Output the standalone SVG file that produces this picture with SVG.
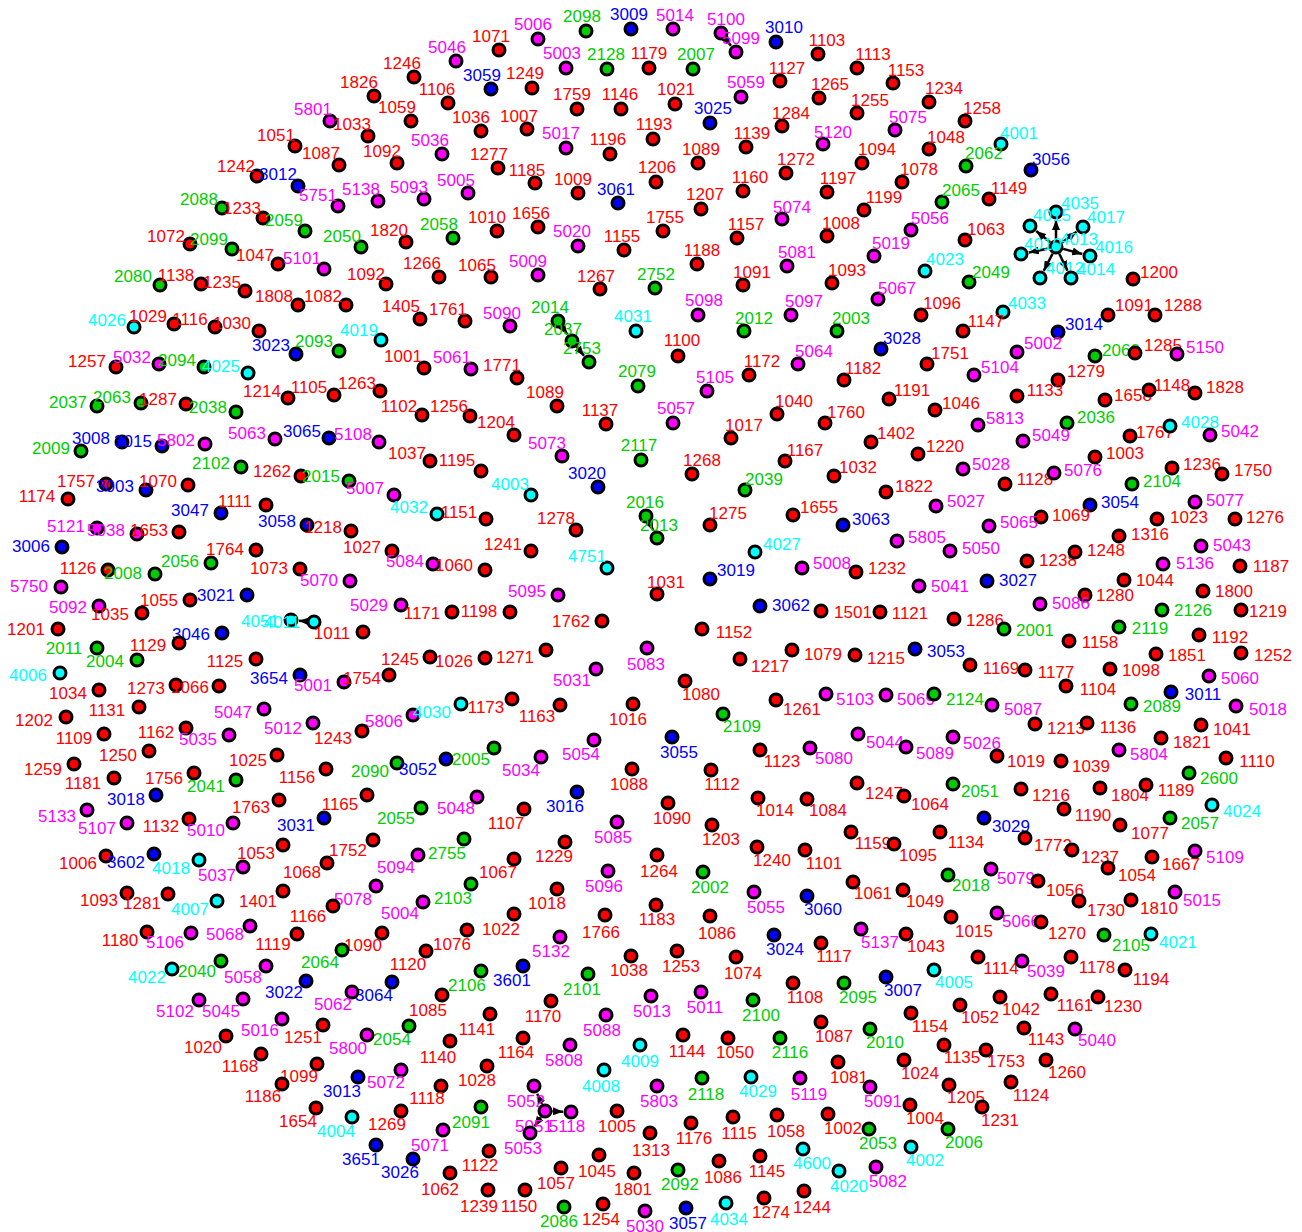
<svg xmlns="http://www.w3.org/2000/svg" width="1302" height="1232" viewBox="0 0 1302 1232">
<style>
circle{stroke:#000;stroke-width:3}
text{font-family:"Liberation Sans",Arial,sans-serif;font-size:17px;text-anchor:middle}
.r circle,.r text{fill:#ff0000}
.g circle,.g text{fill:#00cd00}
.b circle,.b text{fill:#0000ff}
.m circle,.m text{fill:#ff00ff}
.c circle,.c text{fill:#00ffff}
.e line{stroke:#000;stroke-width:2.5;marker-end:url(#ah)}
</style>
<defs><marker id="ah" markerUnits="userSpaceOnUse" markerWidth="10" markerHeight="8" refX="10" refY="4" orient="auto"><path d="M0,0 L10,4 L0,8 z" fill="#000"/></marker></defs>
<rect width="1302" height="1232" fill="#fff"/>
<g id="edges" class="e">
<line x1="725.6" y1="38.9" x2="731" y2="45.7"/>
<line x1="562.3" y1="327.1" x2="567.4" y2="334.4"/>
<line x1="576.7" y1="346.8" x2="584" y2="355.8"/>
<line x1="649.4" y1="522.7" x2="653.4" y2="530.8"/>
<line x1="1056" y1="239.5" x2="1056" y2="220"/>
<line x1="1050.2" y1="242.3" x2="1036.2" y2="231"/>
<line x1="1062" y1="242.5" x2="1076.6" y2="231.8"/>
<line x1="1048.6" y1="248.5" x2="1028.8" y2="252.4"/>
<line x1="1063.2" y1="248.9" x2="1082.3" y2="254"/>
<line x1="1052.6" y1="253.7" x2="1043.7" y2="270.9"/>
<line x1="1059.3" y1="253.8" x2="1067.5" y2="270.8"/>
<line x1="306.5" y1="621.3" x2="299" y2="620.7"/>
<line x1="542" y1="1104.1" x2="537.2" y2="1093.7"/>
<line x1="552.5" y1="1111.3" x2="563" y2="1111.7"/>
<line x1="540.8" y1="1117.2" x2="534.5" y2="1126.4"/>
</g>
<g id="nodes">
<g id="n1246" class="r"><circle cx="414" cy="77" r="6"/><text x="402" y="69">1246</text></g>
<g id="n1826" class="r"><circle cx="374" cy="96" r="6"/><text x="359" y="88">1826</text></g>
<g id="n5801" class="m"><circle cx="330" cy="121" r="6"/><text x="313" y="115">5801</text></g>
<g id="n1059" class="r"><circle cx="411" cy="121" r="6"/><text x="397" y="113">1059</text></g>
<g id="n1033" class="r"><circle cx="368" cy="136" r="6"/><text x="352" y="130">1033</text></g>
<g id="n1051" class="r"><circle cx="295" cy="146" r="6"/><text x="276" y="141">1051</text></g>
<g id="n1087" class="r"><circle cx="339" cy="165" r="6"/><text x="321" y="159">1087</text></g>
<g id="n1092" class="r"><circle cx="397" cy="163" r="6"/><text x="382" y="157">1092</text></g>
<g id="n1242" class="r"><circle cx="257" cy="176" r="6"/><text x="236" y="172">1242</text></g>
<g id="n3012" class="b"><circle cx="298" cy="186" r="6"/><text x="278" y="180">3012</text></g>
<g id="n5751" class="m"><circle cx="338" cy="206" r="6"/><text x="318" y="201">5751</text></g>
<g id="n5138" class="m"><circle cx="378" cy="201" r="6"/><text x="361" y="195">5138</text></g>
<g id="n5093" class="m"><circle cx="424" cy="199" r="6"/><text x="409" y="193">5093</text></g>
<g id="n2088" class="g"><circle cx="222" cy="208" r="6"/><text x="199" y="205">2088</text></g>
<g id="n1233" class="r"><circle cx="263" cy="218" r="6"/><text x="242" y="214">1233</text></g>
<g id="n2059" class="g"><circle cx="305" cy="231" r="6"/><text x="284" y="226">2059</text></g>
<g id="n2050" class="g"><circle cx="361" cy="247" r="6"/><text x="342" y="242">2050</text></g>
<g id="n1820" class="r"><circle cx="406" cy="242" r="6"/><text x="389" y="236">1820</text></g>
<g id="n1072" class="r"><circle cx="190" cy="244" r="6"/><text x="166" y="242">1072</text></g>
<g id="n2099" class="g"><circle cx="232" cy="249" r="6"/><text x="209" y="245">2099</text></g>
<g id="n1047" class="r"><circle cx="278" cy="264" r="6"/><text x="255" y="261">1047</text></g>
<g id="n5101" class="m"><circle cx="324" cy="269" r="6"/><text x="302" y="264">5101</text></g>
<g id="n1092b" class="r"><circle cx="386" cy="284" r="6"/><text x="366" y="280">1092</text></g>
<g id="n1266" class="r"><circle cx="439" cy="277" r="6"/><text x="422" y="269">1266</text></g>
<g id="n2080" class="g"><circle cx="160" cy="285" r="6"/><text x="133" y="282">2080</text></g>
<g id="n1138" class="r"><circle cx="201" cy="284" r="6"/><text x="176" y="281">1138</text></g>
<g id="n1235" class="r"><circle cx="245" cy="291" r="6"/><text x="222" y="288">1235</text></g>
<g id="n1808" class="r"><circle cx="298" cy="305" r="6"/><text x="274" y="302">1808</text></g>
<g id="n1082" class="r"><circle cx="346" cy="305" r="6"/><text x="323" y="302">1082</text></g>
<g id="n1405" class="r"><circle cx="420" cy="319" r="6"/><text x="401" y="312">1405</text></g>
<g id="n5046" class="m"><circle cx="456" cy="61" r="6"/><text x="447" y="53">5046</text></g>
<g id="n1071" class="r"><circle cx="499" cy="50" r="6"/><text x="491" y="42">1071</text></g>
<g id="n5006" class="m"><circle cx="538" cy="39" r="6"/><text x="533" y="30">5006</text></g>
<g id="n2098" class="g"><circle cx="586" cy="31" r="6"/><text x="582" y="22">2098</text></g>
<g id="n3009" class="b"><circle cx="631" cy="29" r="6"/><text x="629" y="20">3009</text></g>
<g id="n5014" class="m"><circle cx="673" cy="29" r="6"/><text x="675" y="21">5014</text></g>
<g id="n5100" class="m"><circle cx="721" cy="33" r="6"/><text x="726" y="25">5100</text></g>
<g id="n5099" class="m"><circle cx="736" cy="52" r="6"/><text x="741" y="44">5099</text></g>
<g id="n3010" class="b"><circle cx="776" cy="42" r="6"/><text x="784" y="33">3010</text></g>
<g id="n1103" class="r"><circle cx="818" cy="54" r="6"/><text x="827" y="46">1103</text></g>
<g id="n1113" class="r"><circle cx="857" cy="68" r="6"/><text x="873" y="60">1113</text></g>
<g id="n5003" class="m"><circle cx="566" cy="68" r="6"/><text x="562" y="59">5003</text></g>
<g id="n2128" class="g"><circle cx="607" cy="69" r="6"/><text x="606" y="60">2128</text></g>
<g id="n1179" class="r"><circle cx="649" cy="68" r="6"/><text x="649" y="59">1179</text></g>
<g id="n2007" class="g"><circle cx="693" cy="69" r="6"/><text x="696" y="60">2007</text></g>
<g id="n3059" class="b"><circle cx="491" cy="89" r="6"/><text x="482" y="81">3059</text></g>
<g id="n1249" class="r"><circle cx="532" cy="88" r="6"/><text x="525" y="79">1249</text></g>
<g id="n1106" class="r"><circle cx="448" cy="103" r="6"/><text x="437" y="95">1106</text></g>
<g id="n1759" class="r"><circle cx="577" cy="109" r="6"/><text x="572" y="100">1759</text></g>
<g id="n1146" class="r"><circle cx="621" cy="109" r="6"/><text x="620" y="100">1146</text></g>
<g id="n1021" class="r"><circle cx="675" cy="104" r="6"/><text x="676" y="95">1021</text></g>
<g id="n5059" class="m"><circle cx="741" cy="97" r="6"/><text x="746" y="88">5059</text></g>
<g id="n1127" class="r"><circle cx="780" cy="81" r="6"/><text x="787" y="74">1127</text></g>
<g id="n1265" class="r"><circle cx="819" cy="98" r="6"/><text x="830" y="90">1265</text></g>
<g id="n1255" class="r"><circle cx="857" cy="113" r="6"/><text x="870" y="106">1255</text></g>
<g id="n1036" class="r"><circle cx="481" cy="131" r="6"/><text x="471" y="123">1036</text></g>
<g id="n1007" class="r"><circle cx="527" cy="129" r="6"/><text x="519" y="122">1007</text></g>
<g id="n3025" class="b"><circle cx="710" cy="123" r="6"/><text x="713" y="114">3025</text></g>
<g id="n1284" class="r"><circle cx="782" cy="126" r="6"/><text x="791" y="119">1284</text></g>
<g id="n5036" class="m"><circle cx="442" cy="154" r="6"/><text x="430" y="146">5036</text></g>
<g id="n5017" class="m"><circle cx="566" cy="148" r="6"/><text x="561" y="139">5017</text></g>
<g id="n1196" class="r"><circle cx="610" cy="154" r="6"/><text x="608" y="145">1196</text></g>
<g id="n1193" class="r"><circle cx="653" cy="139" r="6"/><text x="654" y="130">1193</text></g>
<g id="n1139" class="r"><circle cx="746" cy="147" r="6"/><text x="752" y="139">1139</text></g>
<g id="n5120" class="m"><circle cx="823" cy="144" r="6"/><text x="833" y="138">5120</text></g>
<g id="n1089" class="r"><circle cx="698" cy="163" r="6"/><text x="701" y="155">1089</text></g>
<g id="n1277" class="r"><circle cx="498" cy="168" r="6"/><text x="489" y="160">1277</text></g>
<g id="n1185" class="r"><circle cx="535" cy="183" r="6"/><text x="527" y="176">1185</text></g>
<g id="n1206" class="r"><circle cx="656" cy="182" r="6"/><text x="657" y="173">1206</text></g>
<g id="n1272" class="r"><circle cx="786" cy="173" r="6"/><text x="796" y="165">1272</text></g>
<g id="n1160" class="r"><circle cx="743" cy="191" r="6"/><text x="750" y="183">1160</text></g>
<g id="n1197" class="r"><circle cx="827" cy="192" r="6"/><text x="838" y="184">1197</text></g>
<g id="n1094" class="r"><circle cx="862" cy="163" r="6"/><text x="877" y="155">1094</text></g>
<g id="n5005" class="m"><circle cx="468" cy="193" r="6"/><text x="456" y="186">5005</text></g>
<g id="n1009" class="r"><circle cx="578" cy="193" r="6"/><text x="573" y="185">1009</text></g>
<g id="n3061" class="b"><circle cx="618" cy="203" r="6"/><text x="616" y="195">3061</text></g>
<g id="n1207" class="r"><circle cx="701" cy="209" r="6"/><text x="705" y="200">1207</text></g>
<g id="n5074" class="m"><circle cx="782" cy="219" r="6"/><text x="792" y="213">5074</text></g>
<g id="n1199" class="r"><circle cx="864" cy="210" r="6"/><text x="884" y="203">1199</text></g>
<g id="n2058" class="g"><circle cx="453" cy="238" r="6"/><text x="439" y="230">2058</text></g>
<g id="n1010" class="r"><circle cx="497" cy="231" r="6"/><text x="487" y="223">1010</text></g>
<g id="n1656" class="r"><circle cx="538" cy="227" r="6"/><text x="531" y="219">1656</text></g>
<g id="n5020" class="m"><circle cx="578" cy="246" r="6"/><text x="572" y="237">5020</text></g>
<g id="n1155" class="r"><circle cx="624" cy="250" r="6"/><text x="622" y="242">1155</text></g>
<g id="n1755" class="r"><circle cx="663" cy="231" r="6"/><text x="665" y="223">1755</text></g>
<g id="n1157" class="r"><circle cx="737" cy="238" r="6"/><text x="746" y="230">1157</text></g>
<g id="n1008" class="r"><circle cx="827" cy="236" r="6"/><text x="841" y="229">1008</text></g>
<g id="n1065" class="r"><circle cx="491" cy="277" r="6"/><text x="477" y="271">1065</text></g>
<g id="n5009" class="m"><circle cx="538" cy="275" r="6"/><text x="528" y="267">5009</text></g>
<g id="n1188" class="r"><circle cx="697" cy="264" r="6"/><text x="702" y="256">1188</text></g>
<g id="n5081" class="m"><circle cx="787" cy="266" r="6"/><text x="797" y="258">5081</text></g>
<g id="n1267" class="r"><circle cx="600" cy="289" r="6"/><text x="596" y="282">1267</text></g>
<g id="n2752" class="g"><circle cx="655" cy="288" r="6"/><text x="656" y="280">2752</text></g>
<g id="n1091" class="r"><circle cx="743" cy="285" r="6"/><text x="752" y="278">1091</text></g>
<g id="n1093" class="r"><circle cx="832" cy="283" r="6"/><text x="847" y="276">1093</text></g>
<g id="n5098" class="m"><circle cx="698" cy="315" r="6"/><text x="704" y="306">5098</text></g>
<g id="n5097" class="m"><circle cx="791" cy="315" r="6"/><text x="804" y="307">5097</text></g>
<g id="n1761" class="r"><circle cx="465" cy="321" r="6"/><text x="448" y="315">1761</text></g>
<g id="n5090" class="m"><circle cx="510" cy="326" r="6"/><text x="502" y="319">5090</text></g>
<g id="n2014" class="g"><circle cx="558" cy="321" r="6"/><text x="550" y="313">2014</text></g>
<g id="n2037" class="g"><circle cx="572" cy="341" r="6"/><text x="563" y="335">2037</text></g>
<g id="n2753" class="g"><circle cx="589" cy="362" r="6"/><text x="582" y="354">2753</text></g>
<g id="n1153" class="r"><circle cx="893" cy="83" r="6"/><text x="906" y="76">1153</text></g>
<g id="n1234" class="r"><circle cx="929" cy="102" r="6"/><text x="944" y="94">1234</text></g>
<g id="n1258" class="r"><circle cx="965" cy="121" r="6"/><text x="982" y="114">1258</text></g>
<g id="n5075" class="m"><circle cx="895" cy="130" r="6"/><text x="908" y="123">5075</text></g>
<g id="n1048" class="r"><circle cx="929" cy="149" r="6"/><text x="946" y="143">1048</text></g>
<g id="n4001" class="c"><circle cx="1001" cy="144" r="6"/><text x="1019" y="139">4001</text></g>
<g id="n2062" class="g"><circle cx="966" cy="166" r="6"/><text x="984" y="159">2062</text></g>
<g id="n3056" class="b"><circle cx="1031" cy="170" r="6"/><text x="1051" y="165">3056</text></g>
<g id="n1078" class="r"><circle cx="902" cy="182" r="6"/><text x="919" y="175">1078</text></g>
<g id="n2065" class="g"><circle cx="942" cy="202" r="6"/><text x="961" y="196">2065</text></g>
<g id="n1149" class="r"><circle cx="989" cy="199" r="6"/><text x="1009" y="194">1149</text></g>
<g id="n5056" class="m"><circle cx="911" cy="230" r="6"/><text x="930" y="224">5056</text></g>
<g id="n1063" class="r"><circle cx="965" cy="240" r="6"/><text x="986" y="235">1063</text></g>
<g id="n5019" class="m"><circle cx="874" cy="256" r="6"/><text x="891" y="249">5019</text></g>
<g id="n4023" class="c"><circle cx="925" cy="271" r="6"/><text x="945" y="265">4023</text></g>
<g id="n2049" class="g"><circle cx="969" cy="282" r="6"/><text x="991" y="278">2049</text></g>
<g id="n5067" class="m"><circle cx="878" cy="299" r="6"/><text x="897" y="294">5067</text></g>
<g id="n1096" class="r"><circle cx="921" cy="315" r="6"/><text x="942" y="309">1096</text></g>
<g id="n4033" class="c"><circle cx="1003" cy="312" r="6"/><text x="1027" y="309">4033</text></g>
<g id="n1200" class="r"><circle cx="1133" cy="279" r="6"/><text x="1159" y="278">1200</text></g>
<g id="n1091b" class="r"><circle cx="1108" cy="315" r="6"/><text x="1134" y="311">1091</text></g>
<g id="n1288" class="r"><circle cx="1155" cy="315" r="6"/><text x="1183" y="311">1288</text></g>
<g id="n4035" class="c"><circle cx="1056" cy="212" r="6"/><text x="1080" y="209">4035</text></g>
<g id="n4015" class="c"><circle cx="1030" cy="226" r="6"/><text x="1052" y="221">4015</text></g>
<g id="n4017" class="c"><circle cx="1083" cy="227" r="6"/><text x="1106" y="223">4017</text></g>
<g id="n4013" class="c"><circle cx="1056" cy="247" r="6"/><text x="1079" y="245">4013</text></g>
<g id="n4010" class="c"><circle cx="1021" cy="254" r="6"/><text x="1043" y="250">4010</text></g>
<g id="n4016" class="c"><circle cx="1090" cy="256" r="6"/><text x="1114" y="253">4016</text></g>
<g id="n4012" class="c"><circle cx="1040" cy="278" r="6"/><text x="1065" y="274">4012</text></g>
<g id="n4014" class="c"><circle cx="1071" cy="278" r="6"/><text x="1096" y="275">4014</text></g>
<g id="n4026" class="c"><circle cx="134" cy="327" r="6"/><text x="107" y="326">4026</text></g>
<g id="n1029" class="r"><circle cx="174" cy="324" r="6"/><text x="148" y="322">1029</text></g>
<g id="n1116" class="r"><circle cx="215" cy="327" r="6"/><text x="190" y="325">1116</text></g>
<g id="n1030" class="r"><circle cx="259" cy="331" r="6"/><text x="232" y="329">1030</text></g>
<g id="n3023" class="b"><circle cx="296" cy="354" r="6"/><text x="271" y="351">3023</text></g>
<g id="n2093" class="g"><circle cx="339" cy="351" r="6"/><text x="314" y="347">2093</text></g>
<g id="n4019" class="c"><circle cx="381" cy="340" r="6"/><text x="359" y="336">4019</text></g>
<g id="n1001" class="r"><circle cx="424" cy="368" r="6"/><text x="403" y="362">1001</text></g>
<g id="n1257" class="r"><circle cx="116" cy="367" r="6"/><text x="87" y="367">1257</text></g>
<g id="n5032" class="m"><circle cx="159" cy="364" r="6"/><text x="132" y="363">5032</text></g>
<g id="n2094" class="g"><circle cx="204" cy="367" r="6"/><text x="177" y="366">2094</text></g>
<g id="n4025" class="c"><circle cx="248" cy="373" r="6"/><text x="221" y="372">4025</text></g>
<g id="n1214" class="r"><circle cx="288" cy="398" r="6"/><text x="262" y="397">1214</text></g>
<g id="n1105" class="r"><circle cx="334" cy="395" r="6"/><text x="309" y="393">1105</text></g>
<g id="n1263" class="r"><circle cx="380" cy="391" r="6"/><text x="357" y="389">1263</text></g>
<g id="n1102" class="r"><circle cx="422" cy="415" r="6"/><text x="399" y="412">1102</text></g>
<g id="n2037b" class="g"><circle cx="97" cy="406" r="6"/><text x="68" y="408">2037</text></g>
<g id="n2063" class="g"><circle cx="141" cy="403" r="6"/><text x="112" y="403">2063</text></g>
<g id="n1287" class="r"><circle cx="186" cy="404" r="6"/><text x="158" y="405">1287</text></g>
<g id="n2038" class="g"><circle cx="236" cy="412" r="6"/><text x="208" y="413">2038</text></g>
<g id="n2009" class="g"><circle cx="81" cy="451" r="6"/><text x="51" y="454">2009</text></g>
<g id="n3008" class="b"><circle cx="122" cy="442" r="6"/><text x="91" y="444">3008</text></g>
<g id="n3015" class="b"><circle cx="162" cy="446" r="6"/><text x="133" y="447">3015</text></g>
<g id="n5802" class="m"><circle cx="205" cy="444" r="6"/><text x="176" y="446">5802</text></g>
<g id="n5063" class="m"><circle cx="275" cy="439" r="6"/><text x="247" y="439">5063</text></g>
<g id="n3065" class="b"><circle cx="329" cy="438" r="6"/><text x="302" y="437">3065</text></g>
<g id="n5108" class="m"><circle cx="379" cy="442" r="6"/><text x="353" y="440">5108</text></g>
<g id="n1037" class="r"><circle cx="430" cy="461" r="6"/><text x="407" y="459">1037</text></g>
<g id="n2102" class="g"><circle cx="241" cy="467" r="6"/><text x="211" y="469">2102</text></g>
<g id="n1262" class="r"><circle cx="301" cy="476" r="6"/><text x="272" y="477">1262</text></g>
<g id="n2015" class="g"><circle cx="349" cy="481" r="6"/><text x="321" y="482">2015</text></g>
<g id="n5007" class="m"><circle cx="394" cy="495" r="6"/><text x="365" y="494">5007</text></g>
<g id="n4032" class="c"><circle cx="437" cy="514" r="6"/><text x="409" y="513">4032</text></g>
<g id="n1757" class="r"><circle cx="106" cy="484" r="6"/><text x="76" y="487">1757</text></g>
<g id="n3003" class="b"><circle cx="146" cy="490" r="6"/><text x="115" y="492">3003</text></g>
<g id="n1070" class="r"><circle cx="188" cy="485" r="6"/><text x="158" y="487">1070</text></g>
<g id="n1174" class="r"><circle cx="68" cy="499" r="6"/><text x="37" y="502">1174</text></g>
<g id="n3047" class="b"><circle cx="221" cy="513" r="6"/><text x="190" y="516">3047</text></g>
<g id="n1111" class="r"><circle cx="266" cy="505" r="6"/><text x="235" y="507">1111</text></g>
<g id="n3058" class="b"><circle cx="307" cy="525" r="6"/><text x="277" y="527">3058</text></g>
<g id="n1218" class="r"><circle cx="351" cy="531" r="6"/><text x="323" y="533">1218</text></g>
<g id="n5121" class="m"><circle cx="97" cy="528" r="6"/><text x="66" y="532">5121</text></g>
<g id="n5038" class="m"><circle cx="137" cy="534" r="6"/><text x="106" y="536">5038</text></g>
<g id="n1653" class="r"><circle cx="179" cy="532" r="6"/><text x="149" y="536">1653</text></g>
<g id="n3006" class="b"><circle cx="62" cy="547" r="6"/><text x="31" y="552">3006</text></g>
<g id="n1764" class="r"><circle cx="256" cy="550" r="6"/><text x="225" y="555">1764</text></g>
<g id="n1027" class="r"><circle cx="392" cy="551" r="6"/><text x="362" y="553">1027</text></g>
<g id="n5084" class="m"><circle cx="433" cy="564" r="6"/><text x="405" y="567">5084</text></g>
<g id="n1126" class="r"><circle cx="108" cy="570" r="6"/><text x="78" y="574">1126</text></g>
<g id="n2008" class="g"><circle cx="155" cy="574" r="6"/><text x="123" y="579">2008</text></g>
<g id="n2056" class="g"><circle cx="211" cy="563" r="6"/><text x="180" y="567">2056</text></g>
<g id="n1073" class="r"><circle cx="300" cy="569" r="6"/><text x="269" y="574">1073</text></g>
<g id="n5070" class="m"><circle cx="350" cy="581" r="6"/><text x="319" y="586">5070</text></g>
<g id="n5750" class="m"><circle cx="61" cy="587" r="6"/><text x="29" y="592">5750</text></g>
<g id="n1055" class="r"><circle cx="190" cy="600" r="6"/><text x="159" y="606">1055</text></g>
<g id="n3021" class="b"><circle cx="247" cy="595" r="6"/><text x="216" y="601">3021</text></g>
<g id="n5029" class="m"><circle cx="401" cy="605" r="6"/><text x="369" y="611">5029</text></g>
<g id="n5092" class="m"><circle cx="99" cy="606" r="6"/><text x="68" y="613">5092</text></g>
<g id="n1035" class="r"><circle cx="142" cy="613" r="6"/><text x="110" y="620">1035</text></g>
<g id="n1171" class="r"><circle cx="452" cy="612" r="6"/><text x="422" y="619">1171</text></g>
<g id="n1198" class="r"><circle cx="510" cy="612" r="6"/><text x="479" y="617">1198</text></g>
<g id="n1771" class="r"><circle cx="517" cy="378" r="6"/><text x="502" y="371">1771</text></g>
<g id="n5061" class="m"><circle cx="471" cy="369" r="6"/><text x="452" y="363">5061</text></g>
<g id="n4031" class="c"><circle cx="636" cy="331" r="6"/><text x="633" y="322">4031</text></g>
<g id="n1100" class="r"><circle cx="678" cy="356" r="6"/><text x="682" y="346">1100</text></g>
<g id="n2012" class="g"><circle cx="744" cy="331" r="6"/><text x="754" y="324">2012</text></g>
<g id="n2003" class="g"><circle cx="837" cy="331" r="6"/><text x="851" y="324">2003</text></g>
<g id="n5064" class="m"><circle cx="798" cy="364" r="6"/><text x="814" y="357">5064</text></g>
<g id="n1172" class="r"><circle cx="749" cy="375" r="6"/><text x="762" y="367">1172</text></g>
<g id="n1182" class="r"><circle cx="844" cy="380" r="6"/><text x="863" y="374">1182</text></g>
<g id="n2079" class="g"><circle cx="638" cy="386" r="6"/><text x="637" y="377">2079</text></g>
<g id="n5105" class="m"><circle cx="707" cy="391" r="6"/><text x="715" y="383">5105</text></g>
<g id="n1089b" class="r"><circle cx="557" cy="406" r="6"/><text x="545" y="398">1089</text></g>
<g id="n1137" class="r"><circle cx="606" cy="424" r="6"/><text x="600" y="416">1137</text></g>
<g id="n5057" class="m"><circle cx="673" cy="423" r="6"/><text x="676" y="414">5057</text></g>
<g id="n1040" class="r"><circle cx="777" cy="414" r="6"/><text x="794" y="407">1040</text></g>
<g id="n1760" class="r"><circle cx="825" cy="423" r="6"/><text x="846" y="418">1760</text></g>
<g id="n1256" class="r"><circle cx="470" cy="416" r="6"/><text x="449" y="412">1256</text></g>
<g id="n1204" class="r"><circle cx="514" cy="435" r="6"/><text x="496" y="428">1204</text></g>
<g id="n1017" class="r"><circle cx="731" cy="438" r="6"/><text x="744" y="431">1017</text></g>
<g id="n5073" class="m"><circle cx="562" cy="456" r="6"/><text x="547" y="449">5073</text></g>
<g id="n2117" class="g"><circle cx="641" cy="460" r="6"/><text x="639" y="451">2117</text></g>
<g id="n1195" class="r"><circle cx="481" cy="471" r="6"/><text x="457" y="466">1195</text></g>
<g id="n1268" class="r"><circle cx="692" cy="474" r="6"/><text x="702" y="466">1268</text></g>
<g id="n1167" class="r"><circle cx="785" cy="461" r="6"/><text x="805" y="456">1167</text></g>
<g id="n1032" class="r"><circle cx="834" cy="476" r="6"/><text x="858" y="473">1032</text></g>
<g id="n3020" class="b"><circle cx="598" cy="487" r="6"/><text x="587" y="479">3020</text></g>
<g id="n2039" class="g"><circle cx="745" cy="490" r="6"/><text x="764" y="485">2039</text></g>
<g id="n4003" class="c"><circle cx="531" cy="495" r="6"/><text x="510" y="490">4003</text></g>
<g id="n1151" class="r"><circle cx="486" cy="519" r="6"/><text x="459" y="518">1151</text></g>
<g id="n2016" class="g"><circle cx="646" cy="516" r="6"/><text x="645" y="508">2016</text></g>
<g id="n2013" class="g"><circle cx="657" cy="538" r="6"/><text x="659" y="531">2013</text></g>
<g id="n1275" class="r"><circle cx="710" cy="525" r="6"/><text x="728" y="519">1275</text></g>
<g id="n1655" class="r"><circle cx="793" cy="515" r="6"/><text x="819" y="513">1655</text></g>
<g id="n3063" class="b"><circle cx="843" cy="525" r="6"/><text x="871" y="525">3063</text></g>
<g id="n1278" class="r"><circle cx="576" cy="530" r="6"/><text x="556" y="524">1278</text></g>
<g id="n1241" class="r"><circle cx="531" cy="551" r="6"/><text x="503" y="550">1241</text></g>
<g id="n4027" class="c"><circle cx="755" cy="552" r="6"/><text x="782" y="550">4027</text></g>
<g id="n4751" class="c"><circle cx="607" cy="568" r="6"/><text x="587" y="562">4751</text></g>
<g id="n1060" class="r"><circle cx="485" cy="570" r="6"/><text x="454" y="571">1060</text></g>
<g id="n3019" class="b"><circle cx="710" cy="579" r="6"/><text x="736" y="576">3019</text></g>
<g id="n5008" class="m"><circle cx="802" cy="568" r="6"/><text x="832" y="569">5008</text></g>
<g id="n1232" class="r"><circle cx="856" cy="572" r="6"/><text x="887" y="574">1232</text></g>
<g id="n5095" class="m"><circle cx="558" cy="595" r="6"/><text x="527" y="597">5095</text></g>
<g id="n1031" class="r"><circle cx="657" cy="594" r="6"/><text x="666" y="588">1031</text></g>
<g id="n3062" class="b"><circle cx="760" cy="606" r="6"/><text x="791" y="611">3062</text></g>
<g id="n1501" class="r"><circle cx="821" cy="611" r="6"/><text x="853" y="618">1501</text></g>
<g id="n1762" class="r"><circle cx="602" cy="621" r="6"/><text x="571" y="627">1762</text></g>
<g id="n1147" class="r"><circle cx="963" cy="331" r="6"/><text x="986" y="327">1147</text></g>
<g id="n3028" class="b"><circle cx="881" cy="349" r="6"/><text x="902" y="344">3028</text></g>
<g id="n3014" class="b"><circle cx="1058" cy="332" r="6"/><text x="1084" y="330">3014</text></g>
<g id="n5002" class="m"><circle cx="1017" cy="352" r="6"/><text x="1043" y="349">5002</text></g>
<g id="n2060" class="g"><circle cx="1095" cy="356" r="6"/><text x="1121" y="356">2060</text></g>
<g id="n1285" class="r"><circle cx="1135" cy="353" r="6"/><text x="1163" y="351">1285</text></g>
<g id="n5150" class="m"><circle cx="1177" cy="354" r="6"/><text x="1205" y="353">5150</text></g>
<g id="n1751" class="r"><circle cx="927" cy="364" r="6"/><text x="950" y="359">1751</text></g>
<g id="n5104" class="m"><circle cx="974" cy="375" r="6"/><text x="1000" y="373">5104</text></g>
<g id="n1279" class="r"><circle cx="1058" cy="380" r="6"/><text x="1086" y="377">1279</text></g>
<g id="n1191" class="r"><circle cx="889" cy="399" r="6"/><text x="912" y="396">1191</text></g>
<g id="n1133" class="r"><circle cx="1017" cy="396" r="6"/><text x="1045" y="396">1133</text></g>
<g id="n1658" class="r"><circle cx="1105" cy="400" r="6"/><text x="1133" y="401">1658</text></g>
<g id="n1148" class="r"><circle cx="1149" cy="390" r="6"/><text x="1172" y="391">1148</text></g>
<g id="n1828" class="r"><circle cx="1195" cy="393" r="6"/><text x="1225" y="393">1828</text></g>
<g id="n1046" class="r"><circle cx="935" cy="410" r="6"/><text x="961" y="409">1046</text></g>
<g id="n5813" class="m"><circle cx="978" cy="425" r="6"/><text x="1005" y="424">5813</text></g>
<g id="n2036" class="g"><circle cx="1067" cy="423" r="6"/><text x="1096" y="423">2036</text></g>
<g id="n1767" class="r"><circle cx="1130" cy="436" r="6"/><text x="1155" y="438">1767</text></g>
<g id="n4028" class="c"><circle cx="1170" cy="426" r="6"/><text x="1200" y="428">4028</text></g>
<g id="n5042" class="m"><circle cx="1210" cy="435" r="6"/><text x="1240" y="437">5042</text></g>
<g id="n1402" class="r"><circle cx="871" cy="442" r="6"/><text x="896" y="439">1402</text></g>
<g id="n5049" class="m"><circle cx="1023" cy="441" r="6"/><text x="1051" y="441">5049</text></g>
<g id="n1220" class="r"><circle cx="918" cy="454" r="6"/><text x="945" y="452">1220</text></g>
<g id="n1003" class="r"><circle cx="1095" cy="457" r="6"/><text x="1125" y="459">1003</text></g>
<g id="n5028" class="m"><circle cx="963" cy="469" r="6"/><text x="991" y="470">5028</text></g>
<g id="n1128" class="r"><circle cx="1005" cy="484" r="6"/><text x="1035" y="485">1128</text></g>
<g id="n5076" class="m"><circle cx="1054" cy="473" r="6"/><text x="1083" y="476">5076</text></g>
<g id="n1236" class="r"><circle cx="1172" cy="468" r="6"/><text x="1202" y="470">1236</text></g>
<g id="n1750" class="r"><circle cx="1222" cy="474" r="6"/><text x="1253" y="476">1750</text></g>
<g id="n2104" class="g"><circle cx="1132" cy="484" r="6"/><text x="1162" y="487">2104</text></g>
<g id="n1822" class="r"><circle cx="886" cy="492" r="6"/><text x="914" y="492">1822</text></g>
<g id="n3054" class="b"><circle cx="1090" cy="505" r="6"/><text x="1120" y="508">3054</text></g>
<g id="n5077" class="m"><circle cx="1195" cy="502" r="6"/><text x="1225" y="506">5077</text></g>
<g id="n5027" class="m"><circle cx="936" cy="506" r="6"/><text x="966" y="507">5027</text></g>
<g id="n1069" class="r"><circle cx="1041" cy="517" r="6"/><text x="1071" y="521">1069</text></g>
<g id="n1023" class="r"><circle cx="1157" cy="519" r="6"/><text x="1189" y="523">1023</text></g>
<g id="n1276" class="r"><circle cx="1235" cy="519" r="6"/><text x="1265" y="523">1276</text></g>
<g id="n5065" class="m"><circle cx="989" cy="526" r="6"/><text x="1019" y="528">5065</text></g>
<g id="n1316" class="r"><circle cx="1119" cy="536" r="6"/><text x="1150" y="540">1316</text></g>
<g id="n5805" class="m"><circle cx="897" cy="541" r="6"/><text x="927" y="543">5805</text></g>
<g id="n5050" class="m"><circle cx="950" cy="551" r="6"/><text x="981" y="554">5050</text></g>
<g id="n1238" class="r"><circle cx="1027" cy="561" r="6"/><text x="1058" y="566">1238</text></g>
<g id="n1248" class="r"><circle cx="1075" cy="552" r="6"/><text x="1106" y="556">1248</text></g>
<g id="n5043" class="m"><circle cx="1201" cy="546" r="6"/><text x="1232" y="551">5043</text></g>
<g id="n5136" class="m"><circle cx="1163" cy="564" r="6"/><text x="1195" y="569">5136</text></g>
<g id="n1187" class="r"><circle cx="1240" cy="566" r="6"/><text x="1271" y="572">1187</text></g>
<g id="n1044" class="r"><circle cx="1124" cy="580" r="6"/><text x="1155" y="586">1044</text></g>
<g id="n3027" class="b"><circle cx="987" cy="581" r="6"/><text x="1018" y="586">3027</text></g>
<g id="n5041" class="m"><circle cx="919" cy="586" r="6"/><text x="950" y="592">5041</text></g>
<g id="n1800" class="r"><circle cx="1203" cy="591" r="6"/><text x="1234" y="597">1800</text></g>
<g id="n1280" class="r"><circle cx="1085" cy="595" r="6"/><text x="1115" y="601">1280</text></g>
<g id="n5086" class="m"><circle cx="1040" cy="604" r="6"/><text x="1071" y="609">5086</text></g>
<g id="n2126" class="g"><circle cx="1162" cy="610" r="6"/><text x="1193" y="616">2126</text></g>
<g id="n1219" class="r"><circle cx="1241" cy="610" r="6"/><text x="1268" y="617">1219</text></g>
<g id="n1121" class="r"><circle cx="880" cy="612" r="6"/><text x="910" y="619">1121</text></g>
<g id="n1286" class="r"><circle cx="954" cy="619" r="6"/><text x="985" y="626">1286</text></g>
<g id="n4051" class="c"><circle cx="291" cy="620" r="6"/><text x="260" y="627">4051</text></g>
<g id="n4011" class="c"><circle cx="314" cy="622" r="6"/><text x="282" y="628">4011</text></g>
<g id="n1201" class="r"><circle cx="58" cy="629" r="6"/><text x="26" y="635">1201</text></g>
<g id="n3046" class="b"><circle cx="222" cy="633" r="6"/><text x="191" y="640">3046</text></g>
<g id="n1011" class="r"><circle cx="363" cy="632" r="6"/><text x="332" y="639">1011</text></g>
<g id="n2011" class="g"><circle cx="97" cy="648" r="6"/><text x="64" y="654">2011</text></g>
<g id="n1129" class="r"><circle cx="179" cy="643" r="6"/><text x="148" y="651">1129</text></g>
<g id="n2004" class="g"><circle cx="137" cy="660" r="6"/><text x="105" y="667">2004</text></g>
<g id="n1125" class="r"><circle cx="256" cy="659" r="6"/><text x="225" y="667">1125</text></g>
<g id="n1245" class="r"><circle cx="430" cy="657" r="6"/><text x="400" y="665">1245</text></g>
<g id="n4006" class="c"><circle cx="60" cy="673" r="6"/><text x="28" y="681">4006</text></g>
<g id="n3654" class="b"><circle cx="300" cy="675" r="6"/><text x="269" y="684">3654</text></g>
<g id="n5001" class="m"><circle cx="344" cy="682" r="6"/><text x="313" y="691">5001</text></g>
<g id="n1754" class="r"><circle cx="389" cy="675" r="6"/><text x="362" y="684">1754</text></g>
<g id="n1034" class="r"><circle cx="99" cy="690" r="6"/><text x="68" y="699">1034</text></g>
<g id="n1273" class="r"><circle cx="176" cy="685" r="6"/><text x="146" y="694">1273</text></g>
<g id="n1066" class="r"><circle cx="219" cy="686" r="6"/><text x="190" y="693">1066</text></g>
<g id="n1131" class="r"><circle cx="139" cy="707" r="6"/><text x="107" y="716">1131</text></g>
<g id="n5047" class="m"><circle cx="264" cy="709" r="6"/><text x="233" y="718">5047</text></g>
<g id="n1202" class="r"><circle cx="66" cy="717" r="6"/><text x="34" y="726">1202</text></g>
<g id="n5012" class="m"><circle cx="313" cy="723" r="6"/><text x="283" y="734">5012</text></g>
<g id="n5806" class="m"><circle cx="413" cy="715" r="6"/><text x="384" y="727">5806</text></g>
<g id="n4030" class="c"><circle cx="461" cy="704" r="6"/><text x="432" y="718">4030</text></g>
<g id="n1109" class="r"><circle cx="104" cy="734" r="6"/><text x="74" y="744">1109</text></g>
<g id="n1162" class="r"><circle cx="186" cy="728" r="6"/><text x="156" y="738">1162</text></g>
<g id="n5035" class="m"><circle cx="229" cy="735" r="6"/><text x="198" y="745">5035</text></g>
<g id="n1243" class="r"><circle cx="362" cy="731" r="6"/><text x="333" y="744">1243</text></g>
<g id="n1250" class="r"><circle cx="149" cy="751" r="6"/><text x="118" y="761">1250</text></g>
<g id="n1025" class="r"><circle cx="277" cy="755" r="6"/><text x="248" y="766">1025</text></g>
<g id="n1259" class="r"><circle cx="74" cy="764" r="6"/><text x="43" y="775">1259</text></g>
<g id="n1181" class="r"><circle cx="114" cy="778" r="6"/><text x="83" y="789">1181</text></g>
<g id="n1756" class="r"><circle cx="194" cy="773" r="6"/><text x="164" y="784">1756</text></g>
<g id="n2041" class="g"><circle cx="236" cy="780" r="6"/><text x="206" y="792">2041</text></g>
<g id="n1156" class="r"><circle cx="326" cy="769" r="6"/><text x="297" y="783">1156</text></g>
<g id="n2090" class="g"><circle cx="397" cy="763" r="6"/><text x="370" y="777">2090</text></g>
<g id="n3052" class="b"><circle cx="446" cy="759" r="6"/><text x="418" y="775">3052</text></g>
<g id="n3018" class="b"><circle cx="156" cy="795" r="6"/><text x="126" y="805">3018</text></g>
<g id="n1763" class="r"><circle cx="279" cy="800" r="6"/><text x="251" y="813">1763</text></g>
<g id="n1165" class="r"><circle cx="367" cy="795" r="6"/><text x="340" y="810">1165</text></g>
<g id="n5133" class="m"><circle cx="87" cy="810" r="6"/><text x="57" y="822">5133</text></g>
<g id="n5107" class="m"><circle cx="127" cy="823" r="6"/><text x="97" y="834">5107</text></g>
<g id="n1132" class="r"><circle cx="189" cy="819" r="6"/><text x="161" y="832">1132</text></g>
<g id="n5010" class="m"><circle cx="233" cy="823" r="6"/><text x="206" y="836">5010</text></g>
<g id="n3031" class="b"><circle cx="324" cy="818" r="6"/><text x="296" y="831">3031</text></g>
<g id="n2055" class="g"><circle cx="421" cy="808" r="6"/><text x="396" y="824">2055</text></g>
<g id="n1006" class="r"><circle cx="106" cy="856" r="6"/><text x="78" y="869">1006</text></g>
<g id="n3602" class="b"><circle cx="154" cy="854" r="6"/><text x="126" y="868">3602</text></g>
<g id="n4018" class="c"><circle cx="199" cy="860" r="6"/><text x="171" y="874">4018</text></g>
<g id="n1053" class="r"><circle cx="283" cy="845" r="6"/><text x="256" y="859">1053</text></g>
<g id="n1752" class="r"><circle cx="373" cy="840" r="6"/><text x="348" y="856">1752</text></g>
<g id="n5037" class="m"><circle cx="243" cy="867" r="6"/><text x="217" y="881">5037</text></g>
<g id="n1068" class="r"><circle cx="327" cy="863" r="6"/><text x="302" y="878">1068</text></g>
<g id="n5094" class="m"><circle cx="418" cy="855" r="6"/><text x="396" y="873">5094</text></g>
<g id="n2755" class="g"><circle cx="464" cy="839" r="6"/><text x="447" y="859">2755</text></g>
<g id="n1093b" class="r"><circle cx="127" cy="893" r="6"/><text x="99" y="906">1093</text></g>
<g id="n1281" class="r"><circle cx="168" cy="894" r="6"/><text x="142" y="909">1281</text></g>
<g id="n4007" class="c"><circle cx="217" cy="901" r="6"/><text x="190" y="915">4007</text></g>
<g id="n1401" class="r"><circle cx="283" cy="891" r="6"/><text x="258" y="907">1401</text></g>
<g id="n5078" class="m"><circle cx="376" cy="886" r="6"/><text x="353" y="905">5078</text></g>
<g id="n1166" class="r"><circle cx="333" cy="906" r="6"/><text x="308" y="922">1166</text></g>
<g id="n5004" class="m"><circle cx="423" cy="902" r="6"/><text x="400" y="919">5004</text></g>
<g id="n1152" class="r"><circle cx="702" cy="629" r="6"/><text x="734" y="638">1152</text></g>
<g id="n1026" class="r"><circle cx="485" cy="658" r="6"/><text x="454" y="667">1026</text></g>
<g id="n1271" class="r"><circle cx="546" cy="650" r="6"/><text x="515" y="663">1271</text></g>
<g id="n5083" class="m"><circle cx="647" cy="648" r="6"/><text x="646" y="670">5083</text></g>
<g id="n1217" class="r"><circle cx="740" cy="659" r="6"/><text x="770" y="672">1217</text></g>
<g id="n1079" class="r"><circle cx="792" cy="650" r="6"/><text x="823" y="660">1079</text></g>
<g id="n1215" class="r"><circle cx="855" cy="655" r="6"/><text x="886" y="664">1215</text></g>
<g id="n5031" class="m"><circle cx="596" cy="669" r="6"/><text x="572" y="686">5031</text></g>
<g id="n1080" class="r"><circle cx="685" cy="681" r="6"/><text x="701" y="700">1080</text></g>
<g id="n1173" class="r"><circle cx="512" cy="699" r="6"/><text x="486" y="713">1173</text></g>
<g id="n1163" class="r"><circle cx="560" cy="705" r="6"/><text x="537" y="722">1163</text></g>
<g id="n1016" class="r"><circle cx="633" cy="704" r="6"/><text x="628" y="725">1016</text></g>
<g id="n2109" class="g"><circle cx="723" cy="714" r="6"/><text x="742" y="732">2109</text></g>
<g id="n1261" class="r"><circle cx="776" cy="700" r="6"/><text x="802" y="715">1261</text></g>
<g id="n5103" class="m"><circle cx="826" cy="694" r="6"/><text x="855" y="705">5103</text></g>
<g id="n3055" class="b"><circle cx="672" cy="737" r="6"/><text x="679" y="758">3055</text></g>
<g id="n2005" class="g"><circle cx="494" cy="748" r="6"/><text x="471" y="765">2005</text></g>
<g id="n5034" class="m"><circle cx="541" cy="757" r="6"/><text x="521" y="776">5034</text></g>
<g id="n5054" class="m"><circle cx="594" cy="740" r="6"/><text x="581" y="760">5054</text></g>
<g id="n1123" class="r"><circle cx="760" cy="750" r="6"/><text x="782" y="767">1123</text></g>
<g id="n5080" class="m"><circle cx="810" cy="748" r="6"/><text x="834" y="764">5080</text></g>
<g id="n5044" class="m"><circle cx="858" cy="734" r="6"/><text x="885" y="748">5044</text></g>
<g id="n1088" class="r"><circle cx="632" cy="769" r="6"/><text x="629" y="790">1088</text></g>
<g id="n1112" class="r"><circle cx="711" cy="770" r="6"/><text x="722" y="790">1112</text></g>
<g id="n5048" class="m"><circle cx="477" cy="797" r="6"/><text x="456" y="814">5048</text></g>
<g id="n3016" class="b"><circle cx="577" cy="792" r="6"/><text x="565" y="812">3016</text></g>
<g id="n1014" class="r"><circle cx="758" cy="798" r="6"/><text x="775" y="816">1014</text></g>
<g id="n1084" class="r"><circle cx="807" cy="799" r="6"/><text x="828" y="816">1084</text></g>
<g id="n1107" class="r"><circle cx="524" cy="809" r="6"/><text x="506" y="829">1107</text></g>
<g id="n1090" class="r"><circle cx="668" cy="803" r="6"/><text x="672" y="824">1090</text></g>
<g id="n5085" class="m"><circle cx="617" cy="822" r="6"/><text x="613" y="843">5085</text></g>
<g id="n1203" class="r"><circle cx="712" cy="825" r="6"/><text x="721" y="845">1203</text></g>
<g id="n1247" class="r"><circle cx="857" cy="783" r="6"/><text x="884" y="799">1247</text></g>
<g id="n1229" class="r"><circle cx="565" cy="842" r="6"/><text x="554" y="862">1229</text></g>
<g id="n1240" class="r"><circle cx="757" cy="847" r="6"/><text x="772" y="866">1240</text></g>
<g id="n1101" class="r"><circle cx="805" cy="850" r="6"/><text x="824" y="869">1101</text></g>
<g id="n1159" class="r"><circle cx="851" cy="832" r="6"/><text x="873" y="849">1159</text></g>
<g id="n1067" class="r"><circle cx="514" cy="859" r="6"/><text x="498" y="878">1067</text></g>
<g id="n1264" class="r"><circle cx="657" cy="855" r="6"/><text x="659" y="877">1264</text></g>
<g id="n5096" class="m"><circle cx="608" cy="871" r="6"/><text x="604" y="892">5096</text></g>
<g id="n2002" class="g"><circle cx="703" cy="872" r="6"/><text x="710" y="893">2002</text></g>
<g id="n2103" class="g"><circle cx="471" cy="884" r="6"/><text x="453" y="904">2103</text></g>
<g id="n1018" class="r"><circle cx="557" cy="889" r="6"/><text x="547" y="909">1018</text></g>
<g id="n5055" class="m"><circle cx="754" cy="892" r="6"/><text x="766" y="913">5055</text></g>
<g id="n3060" class="b"><circle cx="807" cy="896" r="6"/><text x="823" y="915">3060</text></g>
<g id="n1061" class="r"><circle cx="853" cy="882" r="6"/><text x="873" y="899">1061</text></g>
<g id="n1022" class="r"><circle cx="514" cy="914" r="6"/><text x="501" y="935">1022</text></g>
<g id="n1183" class="r"><circle cx="656" cy="905" r="6"/><text x="657" y="925">1183</text></g>
<g id="n1766" class="r"><circle cx="605" cy="915" r="6"/><text x="601" y="938">1766</text></g>
<g id="n1086" class="r"><circle cx="710" cy="916" r="6"/><text x="717" y="939">1086</text></g>
<g id="n2001" class="g"><circle cx="1004" cy="629" r="6"/><text x="1035" y="636">2001</text></g>
<g id="n2119" class="g"><circle cx="1119" cy="627" r="6"/><text x="1150" y="634">2119</text></g>
<g id="n1158" class="r"><circle cx="1069" cy="641" r="6"/><text x="1100" y="648">1158</text></g>
<g id="n1192" class="r"><circle cx="1199" cy="635" r="6"/><text x="1230" y="643">1192</text></g>
<g id="n3053" class="b"><circle cx="915" cy="649" r="6"/><text x="946" y="657">3053</text></g>
<g id="n1851" class="r"><circle cx="1156" cy="654" r="6"/><text x="1187" y="661">1851</text></g>
<g id="n1252" class="r"><circle cx="1241" cy="653" r="6"/><text x="1273" y="661">1252</text></g>
<g id="n1169" class="r"><circle cx="970" cy="665" r="6"/><text x="1001" y="674">1169</text></g>
<g id="n1177" class="r"><circle cx="1025" cy="670" r="6"/><text x="1056" y="678">1177</text></g>
<g id="n1098" class="r"><circle cx="1110" cy="669" r="6"/><text x="1141" y="676">1098</text></g>
<g id="n5060" class="m"><circle cx="1209" cy="676" r="6"/><text x="1240" y="684">5060</text></g>
<g id="n1104" class="r"><circle cx="1066" cy="686" r="6"/><text x="1098" y="695">1104</text></g>
<g id="n3011" class="b"><circle cx="1171" cy="692" r="6"/><text x="1203" y="700">3011</text></g>
<g id="n5069" class="m"><circle cx="886" cy="695" r="6"/><text x="916" y="705">5069</text></g>
<g id="n2124" class="g"><circle cx="934" cy="694" r="6"/><text x="965" y="705">2124</text></g>
<g id="n5087" class="m"><circle cx="992" cy="705" r="6"/><text x="1023" y="715">5087</text></g>
<g id="n2089" class="g"><circle cx="1131" cy="704" r="6"/><text x="1162" y="712">2089</text></g>
<g id="n5018" class="m"><circle cx="1236" cy="706" r="6"/><text x="1268" y="715">5018</text></g>
<g id="n1213" class="r"><circle cx="1035" cy="724" r="6"/><text x="1066" y="734">1213</text></g>
<g id="n1136" class="r"><circle cx="1087" cy="723" r="6"/><text x="1118" y="733">1136</text></g>
<g id="n1041" class="r"><circle cx="1201" cy="725" r="6"/><text x="1232" y="735">1041</text></g>
<g id="n5026" class="m"><circle cx="953" cy="737" r="6"/><text x="982" y="749">5026</text></g>
<g id="n1821" class="r"><circle cx="1161" cy="738" r="6"/><text x="1192" y="748">1821</text></g>
<g id="n5089" class="m"><circle cx="906" cy="747" r="6"/><text x="935" y="759">5089</text></g>
<g id="n1019" class="r"><circle cx="997" cy="756" r="6"/><text x="1026" y="767">1019</text></g>
<g id="n1039" class="r"><circle cx="1061" cy="761" r="6"/><text x="1091" y="772">1039</text></g>
<g id="n5804" class="m"><circle cx="1119" cy="750" r="6"/><text x="1149" y="760">5804</text></g>
<g id="n1110" class="r"><circle cx="1226" cy="758" r="6"/><text x="1257" y="767">1110</text></g>
<g id="n2600" class="g"><circle cx="1189" cy="773" r="6"/><text x="1219" y="784">2600</text></g>
<g id="n1064" class="r"><circle cx="904" cy="796" r="6"/><text x="930" y="810">1064</text></g>
<g id="n2051" class="g"><circle cx="953" cy="784" r="6"/><text x="980" y="797">2051</text></g>
<g id="n1216" class="r"><circle cx="1021" cy="789" r="6"/><text x="1051" y="801">1216</text></g>
<g id="n1804" class="r"><circle cx="1100" cy="788" r="6"/><text x="1130" y="801">1804</text></g>
<g id="n1189" class="r"><circle cx="1146" cy="785" r="6"/><text x="1176" y="796">1189</text></g>
<g id="n4024" class="c"><circle cx="1212" cy="805" r="6"/><text x="1242" y="817">4024</text></g>
<g id="n1190" class="r"><circle cx="1064" cy="809" r="6"/><text x="1093" y="821">1190</text></g>
<g id="n3029" class="b"><circle cx="984" cy="818" r="6"/><text x="1011" y="832">3029</text></g>
<g id="n2057" class="g"><circle cx="1170" cy="818" r="6"/><text x="1200" y="829">2057</text></g>
<g id="n1077" class="r"><circle cx="1120" cy="825" r="6"/><text x="1150" y="839">1077</text></g>
<g id="n1134" class="r"><circle cx="940" cy="832" r="6"/><text x="966" y="848">1134</text></g>
<g id="n1772" class="r"><circle cx="1025" cy="838" r="6"/><text x="1053" y="851">1772</text></g>
<g id="n1095" class="r"><circle cx="894" cy="844" r="6"/><text x="918" y="861">1095</text></g>
<g id="n1237" class="r"><circle cx="1072" cy="850" r="6"/><text x="1100" y="863">1237</text></g>
<g id="n1054" class="r"><circle cx="1108" cy="868" r="6"/><text x="1137" y="881">1054</text></g>
<g id="n1667" class="r"><circle cx="1152" cy="857" r="6"/><text x="1181" y="870">1667</text></g>
<g id="n5109" class="m"><circle cx="1195" cy="851" r="6"/><text x="1225" y="863">5109</text></g>
<g id="n2018" class="g"><circle cx="948" cy="875" r="6"/><text x="971" y="891">2018</text></g>
<g id="n5079" class="m"><circle cx="991" cy="869" r="6"/><text x="1016" y="884">5079</text></g>
<g id="n1056" class="r"><circle cx="1038" cy="881" r="6"/><text x="1065" y="896">1056</text></g>
<g id="n1049" class="r"><circle cx="903" cy="890" r="6"/><text x="925" y="907">1049</text></g>
<g id="n1730" class="r"><circle cx="1079" cy="901" r="6"/><text x="1106" y="916">1730</text></g>
<g id="n1810" class="r"><circle cx="1131" cy="900" r="6"/><text x="1159" y="914">1810</text></g>
<g id="n5015" class="m"><circle cx="1175" cy="892" r="6"/><text x="1202" y="906">5015</text></g>
<g id="n5066" class="m"><circle cx="997" cy="913" r="6"/><text x="1021" y="927">5066</text></g>
<g id="n1015" class="r"><circle cx="951" cy="917" r="6"/><text x="974" y="937">1015</text></g>
<g id="n1270" class="r"><circle cx="1041" cy="922" r="6"/><text x="1067" y="939">1270</text></g>
<g id="n1180" class="r"><circle cx="147" cy="932" r="6"/><text x="120" y="946">1180</text></g>
<g id="n5106" class="m"><circle cx="191" cy="933" r="6"/><text x="165" y="948">5106</text></g>
<g id="n5068" class="m"><circle cx="250" cy="926" r="6"/><text x="225" y="940">5068</text></g>
<g id="n1119" class="r"><circle cx="297" cy="934" r="6"/><text x="273" y="950">1119</text></g>
<g id="n1090b" class="r"><circle cx="382" cy="933" r="6"/><text x="363" y="951">1090</text></g>
<g id="n4022" class="c"><circle cx="172" cy="969" r="6"/><text x="147" y="983">4022</text></g>
<g id="n2040" class="g"><circle cx="221" cy="961" r="6"/><text x="197" y="977">2040</text></g>
<g id="n5058" class="m"><circle cx="266" cy="966" r="6"/><text x="243" y="983">5058</text></g>
<g id="n2064" class="g"><circle cx="342" cy="950" r="6"/><text x="320" y="968">2064</text></g>
<g id="n1120" class="r"><circle cx="426" cy="951" r="6"/><text x="408" y="970">1120</text></g>
<g id="n3022" class="b"><circle cx="306" cy="981" r="6"/><text x="284" y="998">3022</text></g>
<g id="n3064" class="b"><circle cx="392" cy="982" r="6"/><text x="374" y="1001">3064</text></g>
<g id="n5062" class="m"><circle cx="352" cy="992" r="6"/><text x="333" y="1010">5062</text></g>
<g id="n5102" class="m"><circle cx="199" cy="1000" r="6"/><text x="175" y="1017">5102</text></g>
<g id="n5045" class="m"><circle cx="243" cy="999" r="6"/><text x="221" y="1017">5045</text></g>
<g id="n1085" class="r"><circle cx="442" cy="995" r="6"/><text x="428" y="1016">1085</text></g>
<g id="n5016" class="m"><circle cx="282" cy="1019" r="6"/><text x="260" y="1036">5016</text></g>
<g id="n1251" class="r"><circle cx="323" cy="1025" r="6"/><text x="303" y="1043">1251</text></g>
<g id="n2054" class="g"><circle cx="409" cy="1026" r="6"/><text x="392" y="1045">2054</text></g>
<g id="n5800" class="m"><circle cx="367" cy="1035" r="6"/><text x="348" y="1054">5800</text></g>
<g id="n1020" class="r"><circle cx="226" cy="1036" r="6"/><text x="203" y="1053">1020</text></g>
<g id="n1168" class="r"><circle cx="261" cy="1054" r="6"/><text x="240" y="1072">1168</text></g>
<g id="n1099" class="r"><circle cx="317" cy="1064" r="6"/><text x="299" y="1082">1099</text></g>
<g id="n1186" class="r"><circle cx="282" cy="1084" r="6"/><text x="263" y="1102">1186</text></g>
<g id="n3013" class="b"><circle cx="358" cy="1077" r="6"/><text x="342" y="1097">3013</text></g>
<g id="n5072" class="m"><circle cx="401" cy="1070" r="6"/><text x="386" y="1088">5072</text></g>
<g id="n1118b" class="r"><circle cx="441" cy="1086" r="6"/><text x="427" y="1104">1118</text></g>
<g id="n1654" class="r"><circle cx="316" cy="1108" r="6"/><text x="298" y="1127">1654</text></g>
<g id="n4004" class="c"><circle cx="352" cy="1117" r="6"/><text x="336" y="1137">4004</text></g>
<g id="n1269" class="r"><circle cx="401" cy="1111" r="6"/><text x="387" y="1130">1269</text></g>
<g id="n3651" class="b"><circle cx="376" cy="1145" r="6"/><text x="361" y="1165">3651</text></g>
<g id="n3026" class="b"><circle cx="413" cy="1159" r="6"/><text x="400" y="1178">3026</text></g>
<g id="n5071" class="m"><circle cx="443" cy="1130" r="6"/><text x="430" y="1151">5071</text></g>
<g id="n1062" class="r"><circle cx="450" cy="1173" r="6"/><text x="440" y="1195">1062</text></g>
<g id="n1076" class="r"><circle cx="467" cy="930" r="6"/><text x="452" y="950">1076</text></g>
<g id="n5132" class="m"><circle cx="560" cy="937" r="6"/><text x="551" y="957">5132</text></g>
<g id="n3024" class="b"><circle cx="774" cy="935" r="6"/><text x="785" y="955">3024</text></g>
<g id="n1117" class="r"><circle cx="821" cy="943" r="6"/><text x="834" y="962">1117</text></g>
<g id="n5137" class="m"><circle cx="861" cy="929" r="6"/><text x="880" y="948">5137</text></g>
<g id="n3601" class="b"><circle cx="523" cy="966" r="6"/><text x="512" y="986">3601</text></g>
<g id="n2106" class="g"><circle cx="481" cy="971" r="6"/><text x="467" y="991">2106</text></g>
<g id="n1038" class="r"><circle cx="631" cy="956" r="6"/><text x="629" y="976">1038</text></g>
<g id="n1253" class="r"><circle cx="677" cy="951" r="6"/><text x="681" y="972">1253</text></g>
<g id="n1074" class="r"><circle cx="736" cy="957" r="6"/><text x="743" y="979">1074</text></g>
<g id="n2101" class="g"><circle cx="588" cy="974" r="6"/><text x="582" y="995">2101</text></g>
<g id="n2095" class="g"><circle cx="844" cy="983" r="6"/><text x="858" y="1003">2095</text></g>
<g id="n1108" class="r"><circle cx="793" cy="983" r="6"/><text x="805" y="1003">1108</text></g>
<g id="n5013" class="m"><circle cx="651" cy="996" r="6"/><text x="652" y="1017">5013</text></g>
<g id="n5011" class="m"><circle cx="701" cy="992" r="6"/><text x="705" y="1013">5011</text></g>
<g id="n2100" class="g"><circle cx="753" cy="1000" r="6"/><text x="761" y="1021">2100</text></g>
<g id="n1170" class="r"><circle cx="551" cy="1001" r="6"/><text x="543" y="1022">1170</text></g>
<g id="n5088" class="m"><circle cx="606" cy="1015" r="6"/><text x="602" y="1036">5088</text></g>
<g id="n1141" class="r"><circle cx="490" cy="1014" r="6"/><text x="477" y="1035">1141</text></g>
<g id="n1087b" class="r"><circle cx="821" cy="1022" r="6"/><text x="834" y="1042">1087</text></g>
<g id="n2010" class="g"><circle cx="870" cy="1029" r="6"/><text x="885" y="1048">2010</text></g>
<g id="n1144" class="r"><circle cx="683" cy="1035" r="6"/><text x="687" y="1057">1144</text></g>
<g id="n1050" class="r"><circle cx="728" cy="1038" r="6"/><text x="735" y="1058">1050</text></g>
<g id="n2116" class="g"><circle cx="780" cy="1038" r="6"/><text x="790" y="1058">2116</text></g>
<g id="n1140" class="r"><circle cx="450" cy="1041" r="6"/><text x="438" y="1063">1140</text></g>
<g id="n1164" class="r"><circle cx="523" cy="1038" r="6"/><text x="516" y="1058">1164</text></g>
<g id="n5808" class="m"><circle cx="570" cy="1045" r="6"/><text x="564" y="1066">5808</text></g>
<g id="n4009" class="c"><circle cx="640" cy="1045" r="6"/><text x="640" y="1067">4009</text></g>
<g id="n1081" class="r"><circle cx="838" cy="1062" r="6"/><text x="849" y="1083">1081</text></g>
<g id="n1028" class="r"><circle cx="487" cy="1066" r="6"/><text x="477" y="1086">1028</text></g>
<g id="n4008" class="c"><circle cx="604" cy="1070" r="6"/><text x="601" y="1092">4008</text></g>
<g id="n2118" class="g"><circle cx="702" cy="1078" r="6"/><text x="706" y="1100">2118</text></g>
<g id="n4029" class="c"><circle cx="751" cy="1077" r="6"/><text x="758" y="1097">4029</text></g>
<g id="n5119" class="m"><circle cx="800" cy="1078" r="6"/><text x="809" y="1100">5119</text></g>
<g id="n5803" class="m"><circle cx="657" cy="1086" r="6"/><text x="659" y="1107">5803</text></g>
<g id="n5052" class="m"><circle cx="534" cy="1086" r="6"/><text x="526" y="1107">5052</text></g>
<g id="n5051" class="m"><circle cx="545" cy="1111" r="6"/><text x="534" y="1132">5051</text></g>
<g id="n5118" class="m"><circle cx="571" cy="1112" r="6"/><text x="567" y="1132">5118</text></g>
<g id="n5053" class="m"><circle cx="530" cy="1133" r="6"/><text x="523" y="1154">5053</text></g>
<g id="n2091" class="g"><circle cx="481" cy="1107" r="6"/><text x="471" y="1128">2091</text></g>
<g id="n1005" class="r"><circle cx="617" cy="1111" r="6"/><text x="617" y="1132">1005</text></g>
<g id="n1176" class="r"><circle cx="691" cy="1123" r="6"/><text x="694" y="1144">1176</text></g>
<g id="n1115" class="r"><circle cx="733" cy="1117" r="6"/><text x="739" y="1139">1115</text></g>
<g id="n1058" class="r"><circle cx="777" cy="1115" r="6"/><text x="786" y="1137">1058</text></g>
<g id="n1002" class="r"><circle cx="828" cy="1114" r="6"/><text x="843" y="1134">1002</text></g>
<g id="n2053" class="g"><circle cx="869" cy="1129" r="6"/><text x="878" y="1149">2053</text></g>
<g id="n1313" class="r"><circle cx="650" cy="1133" r="6"/><text x="651" y="1156">1313</text></g>
<g id="n4600" class="c"><circle cx="803" cy="1149" r="6"/><text x="812" y="1169">4600</text></g>
<g id="n5091" class="m"><circle cx="870" cy="1087" r="6"/><text x="883" y="1107">5091</text></g>
<g id="n1122" class="r"><circle cx="489" cy="1151" r="6"/><text x="480" y="1171">1122</text></g>
<g id="n1045" class="r"><circle cx="599" cy="1155" r="6"/><text x="597" y="1177">1045</text></g>
<g id="n1086b" class="r"><circle cx="719" cy="1161" r="6"/><text x="723" y="1183">1086</text></g>
<g id="n1145" class="r"><circle cx="760" cy="1156" r="6"/><text x="767" y="1177">1145</text></g>
<g id="n4020" class="c"><circle cx="839" cy="1171" r="6"/><text x="849" y="1192">4020</text></g>
<g id="n1057" class="r"><circle cx="561" cy="1168" r="6"/><text x="556" y="1189">1057</text></g>
<g id="n1801" class="r"><circle cx="634" cy="1173" r="6"/><text x="633" y="1195">1801</text></g>
<g id="n2092" class="g"><circle cx="678" cy="1170" r="6"/><text x="680" y="1190">2092</text></g>
<g id="n1239" class="r"><circle cx="488" cy="1190" r="6"/><text x="479" y="1212">1239</text></g>
<g id="n1150" class="r"><circle cx="525" cy="1190" r="6"/><text x="519" y="1212">1150</text></g>
<g id="n1274" class="r"><circle cx="764" cy="1198" r="6"/><text x="771" y="1218">1274</text></g>
<g id="n1244" class="r"><circle cx="804" cy="1191" r="6"/><text x="812" y="1213">1244</text></g>
<g id="n2086" class="g"><circle cx="564" cy="1207" r="6"/><text x="559" y="1227">2086</text></g>
<g id="n1254" class="r"><circle cx="603" cy="1204" r="6"/><text x="601" y="1225">1254</text></g>
<g id="n5030" class="m"><circle cx="645" cy="1211" r="6"/><text x="645" y="1232">5030</text></g>
<g id="n3057" class="b"><circle cx="686" cy="1208" r="6"/><text x="688" y="1229">3057</text></g>
<g id="n4034" class="c"><circle cx="726" cy="1203" r="6"/><text x="729" y="1225">4034</text></g>
<g id="n1043" class="r"><circle cx="906" cy="934" r="6"/><text x="926" y="952">1043</text></g>
<g id="n2105" class="g"><circle cx="1104" cy="935" r="6"/><text x="1131" y="951">2105</text></g>
<g id="n4021" class="c"><circle cx="1151" cy="934" r="6"/><text x="1178" y="948">4021</text></g>
<g id="n1114" class="r"><circle cx="978" cy="957" r="6"/><text x="1001" y="974">1114</text></g>
<g id="n5039" class="m"><circle cx="1022" cy="961" r="6"/><text x="1046" y="977">5039</text></g>
<g id="n1178" class="r"><circle cx="1071" cy="957" r="6"/><text x="1097" y="973">1178</text></g>
<g id="n1194" class="r"><circle cx="1125" cy="970" r="6"/><text x="1151" y="985">1194</text></g>
<g id="n3007" class="b"><circle cx="886" cy="977" r="6"/><text x="903" y="996">3007</text></g>
<g id="n4005" class="c"><circle cx="934" cy="970" r="6"/><text x="954" y="988">4005</text></g>
<g id="n1052" class="r"><circle cx="960" cy="1005" r="6"/><text x="980" y="1023">1052</text></g>
<g id="n1042" class="r"><circle cx="1000" cy="997" r="6"/><text x="1021" y="1015">1042</text></g>
<g id="n1161" class="r"><circle cx="1051" cy="994" r="6"/><text x="1075" y="1011">1161</text></g>
<g id="n1230" class="r"><circle cx="1098" cy="997" r="6"/><text x="1123" y="1012">1230</text></g>
<g id="n1154" class="r"><circle cx="911" cy="1013" r="6"/><text x="930" y="1032">1154</text></g>
<g id="n1143" class="r"><circle cx="1024" cy="1028" r="6"/><text x="1046" y="1045">1143</text></g>
<g id="n5040" class="m"><circle cx="1075" cy="1029" r="6"/><text x="1097" y="1046">5040</text></g>
<g id="n1135" class="r"><circle cx="944" cy="1045" r="6"/><text x="962" y="1063">1135</text></g>
<g id="n1753" class="r"><circle cx="986" cy="1050" r="6"/><text x="1006" y="1067">1753</text></g>
<g id="n1024" class="r"><circle cx="904" cy="1060" r="6"/><text x="920" y="1079">1024</text></g>
<g id="n1260" class="r"><circle cx="1046" cy="1060" r="6"/><text x="1067" y="1078">1260</text></g>
<g id="n1205" class="r"><circle cx="949" cy="1085" r="6"/><text x="966" y="1103">1205</text></g>
<g id="n1124" class="r"><circle cx="1011" cy="1082" r="6"/><text x="1031" y="1101">1124</text></g>
<g id="n1004" class="r"><circle cx="910" cy="1105" r="6"/><text x="925" y="1124">1004</text></g>
<g id="n1231" class="r"><circle cx="982" cy="1107" r="6"/><text x="1000" y="1126">1231</text></g>
<g id="n2006" class="g"><circle cx="948" cy="1129" r="6"/><text x="964" y="1148">2006</text></g>
<g id="n4002" class="c"><circle cx="911" cy="1147" r="6"/><text x="925" y="1166">4002</text></g>
<g id="n5082" class="m"><circle cx="876" cy="1167" r="6"/><text x="888" y="1187">5082</text></g>
</g>
</svg>
